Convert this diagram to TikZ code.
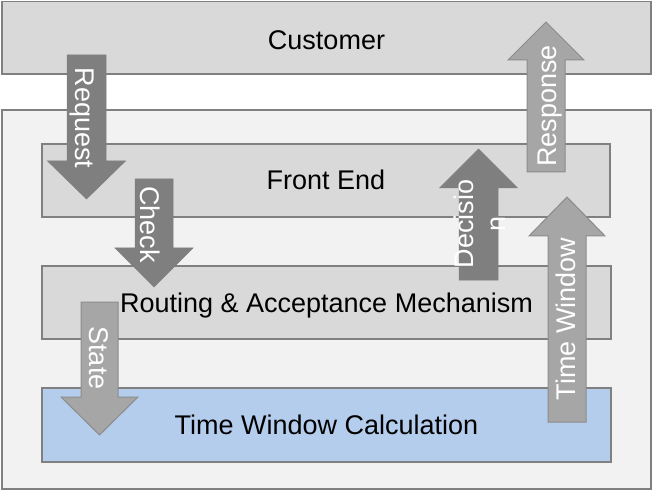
\documentclass[tikz,border=0pt]{standalone}
\usepackage{fontspec}
\setmainfont{Liberation Sans}
\definecolor{boxgray}{HTML}{D9D9D9}
\definecolor{linegray}{HTML}{808080}
\definecolor{bggray}{HTML}{F2F2F2}
\definecolor{twblue}{HTML}{B5CDED}
\definecolor{darkarr}{HTML}{7F7F7F}
\definecolor{lightarr}{HTML}{A6A6A6}
\definecolor{lightarrline}{HTML}{8C8C8C}
% style, cx, half shaft, shaft end, head base, half head, tip
\newcommand\blockarrow[7]{%
  \path[#1] (#2-#3,#4) -- (#2+#3,#4) -- (#2+#3,#5) -- (#2+#6,#5) -- (#2,#7) -- (#2-#6,#5) -- (#2-#3,#5) -- cycle;}
\begin{document}
\begin{tikzpicture}[x=1pt,y=-1pt,
  layer/.style={draw=linegray, line width=1.6pt, inner sep=0pt, text height=19pt, text depth=0pt,
    font=\fontsize{27}{32}\selectfont},
  darkarrow/.style={fill=darkarr, draw=darkarr, line width=0.5pt},
  lightarrow/.style={fill=lightarr, draw=lightarrline, line width=1pt},
  lbl/.style={text=white, inner sep=0pt, font=\fontsize{27}{32}\selectfont, anchor=base}]
\useasboundingbox (0,0) rectangle (654,492);
% system container
\node[draw=linegray, fill=bggray, line width=2pt, minimum width=649pt, minimum height=379pt, inner sep=0pt] (sys) at (326.5,299.5) {};
% layers
\node[layer, fill=boxgray, minimum width=649pt, minimum height=72.5pt, text height=23pt] (cust) at (326.5,37.75) {Customer};
\node[layer, fill=boxgray, minimum width=568pt, minimum height=73pt] (fe) at (326,180.5) {Front End};
\node[layer, fill=boxgray, minimum width=569pt, minimum height=73pt] (ram) at (326.5,302.5) {Routing \& Acceptance Mechanism};
\node[layer, fill=twblue, minimum width=569pt, minimum height=74pt] (twc) at (326.5,425) {Time Window Calculation};
% block arrows
\blockarrow{darkarrow}{86.5}{19.5}{55}{161}{39}{199}
\blockarrow{darkarrow}{154}{19}{179}{248}{39}{287}
\blockarrow{lightarrow}{99.5}{18.5}{302}{397}{38.5}{435}
\blockarrow{lightarrow}{546}{19}{172}{60}{38}{22}
\blockarrow{darkarrow}{478.5}{19.5}{280}{188}{39}{149}
\blockarrow{lightarrow}{567}{19}{422}{236}{38}{197}
% arrow labels
\node[lbl, rotate=-90] (request) at (75,118) {Request};
\node[lbl, rotate=-90] (check) at (140.5,224.5) {Check};
\node[lbl, rotate=-90] (state) at (89.5,358) {State};
\node[lbl, rotate=90] (response) at (556,106) {Response};
\node[lbl, rotate=90, anchor=center, align=center] (decision) at (479.5,224) {Decisio\\n};
\node[lbl, rotate=90] (twin) at (575,319) {Time Window};
\end{tikzpicture}
\end{document}
